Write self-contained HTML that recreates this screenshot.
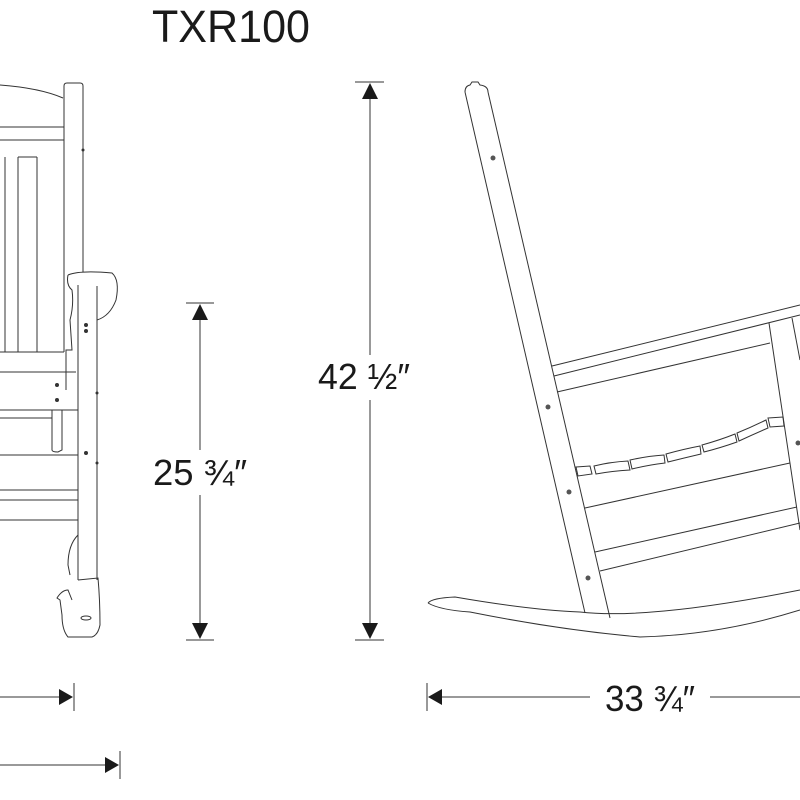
<!DOCTYPE html>
<html><head><meta charset="utf-8"><style>
html,body{margin:0;padding:0;background:#fff;}
svg{display:block}
text{font-family:"Liberation Sans Narrow","Liberation Sans",sans-serif;fill:#1a1a1a}
</style></head><body>
<svg width="800" height="800" viewBox="0 0 800 800" xmlns="http://www.w3.org/2000/svg">
<text x="152" y="42" font-size="45" textLength="158" lengthAdjust="spacingAndGlyphs" style="font-family:'Liberation Sans',sans-serif">TXR100</text>

<g stroke="#333" stroke-width="1" fill="none">
<!-- LEFT CHAIR -->
<path d="M0 85 Q40 88 63 98"/>
<path d="M64 86 Q64 83 67 83 L80 83 Q83 83 83 86 L83 272"/>
<line x1="64" y1="86" x2="64" y2="352"/>
<line x1="0" y1="127" x2="64" y2="127"/>
<line x1="0" y1="140" x2="64" y2="140"/>
<line x1="5" y1="157" x2="5" y2="352"/>
<line x1="18" y1="157" x2="18" y2="352"/>
<line x1="37" y1="157" x2="37" y2="352"/>
<path d="M18 157 L37 157"/>
<line x1="0" y1="352" x2="64" y2="352"/>
<line x1="0" y1="372" x2="76" y2="372"/>
<path d="M68 275 Q80 270 112 273 Q120 280 116 300 Q110 316 97 320"/>
<path d="M68 275 Q66 285 72 290 Q74 305 70 320 L72 350 L66 350 L66 390"/>
<line x1="78" y1="285" x2="78" y2="580"/>
<line x1="97" y1="286" x2="97" y2="580"/>
<line x1="0" y1="410" x2="78" y2="410"/>
<line x1="0" y1="418" x2="52" y2="418"/>
<line x1="0" y1="455" x2="52" y2="455"/>
<path d="M52 410 L52 450 Q52 452 58 452 L62 450 L62 410"/>
<line x1="0" y1="455" x2="78" y2="455"/>
<line x1="0" y1="490" x2="78" y2="490"/>
<line x1="0" y1="500" x2="78" y2="500"/>
<line x1="0" y1="520" x2="78" y2="520"/>
<path d="M78 535 Q68 545 68 565 L70 575"/>
<path d="M78 580 L98 578 Q100 600 100 625 Q98 635 92 637 L68 637 Q62 630 62 615 L60 600 L57 598 Q62 590 68 590 L72 600"/>
<ellipse cx="86" cy="618" rx="5" ry="2"/>
</g>
<g fill="#333">
<circle cx="86" cy="325" r="2"/><circle cx="86" cy="331" r="2"/>
<circle cx="57" cy="385" r="2"/><circle cx="57" cy="400" r="2"/>
<circle cx="86" cy="453" r="2"/>
<circle cx="83" cy="150" r="1.5"/><circle cx="97" cy="393" r="1.5"/><circle cx="97" cy="463" r="1.5"/>
</g>

<!-- RIGHT CHAIR -->
<g stroke="#333" stroke-width="1" fill="none">
<path d="M465 92 Q465 86 470 85 L472 82 L478 82 L480 85 Q488 86 488 92"/>
<line x1="465" y1="92" x2="585" y2="613"/>
<line x1="488" y1="92" x2="610" y2="618"/>
<line x1="552" y1="366" x2="800" y2="305"/>
<line x1="554" y1="376" x2="800" y2="315"/>
<line x1="557" y1="392" x2="770" y2="343"/>
<line x1="769" y1="323" x2="800" y2="530"/>
<line x1="792" y1="318" x2="800" y2="360"/>
<line x1="585" y1="508" x2="790" y2="463"/>
<line x1="595" y1="552" x2="797" y2="507"/>
<line x1="600" y1="571" x2="800" y2="523"/>
<path d="M576 467 L590 466 L592 474 L578 476 Z"/>
<path d="M594 466 Q610 462 628 461 L630 470 Q612 471 596 474 Z"/>
<path d="M630 460 Q648 456 664 455 L665 463 Q648 465 632 469 Z"/>
<path d="M666 454 Q684 449 700 446 L701 454 Q684 458 668 462 Z"/>
<path d="M702 445 Q720 440 735 434 L737 442 Q720 448 704 452 Z"/>
<path d="M737 433 Q752 427 766 420 L768 428 Q754 434 739 441 Z"/>
<path d="M768 418 L783 417 L784 426 L770 427 Z"/>
<path d="M428 603 Q432 598 455 597 Q530 610 580 612 Q650 620 800 590"/>
<path d="M428 603 Q440 610 470 612 Q560 630 640 637 Q720 635 800 610"/>
</g>
<g fill="#555">
<circle cx="493" cy="158" r="2.5"/><circle cx="548" cy="407" r="2.5"/>
<circle cx="569" cy="492" r="2.5"/><circle cx="588" cy="578" r="2.5"/>
<circle cx="798" cy="443" r="2.5"/>
</g>

<!-- DIMENSIONS -->
<g stroke="#333" stroke-width="1">
<line x1="355" y1="82" x2="384" y2="82"/>
<line x1="355" y1="640" x2="384" y2="640"/>
<line x1="370" y1="98" x2="370" y2="355"/>
<line x1="370" y1="400" x2="370" y2="624"/>
<line x1="186" y1="303" x2="214" y2="303"/>
<line x1="186" y1="640" x2="214" y2="640"/>
<line x1="200" y1="318" x2="200" y2="450"/>
<line x1="200" y1="495" x2="200" y2="624"/>
<line x1="0" y1="697" x2="60" y2="697"/>
<line x1="74" y1="683" x2="74" y2="711"/>
<line x1="0" y1="765" x2="106" y2="765"/>
<line x1="120" y1="751" x2="120" y2="779"/>
<line x1="427" y1="683" x2="427" y2="711"/>
<line x1="442" y1="697" x2="590" y2="697"/>
<line x1="710" y1="697" x2="800" y2="697"/>
</g>
<g fill="#1a1a1a">
<polygon points="370,83 362,99 378,99"/>
<polygon points="370,639 362,623 378,623"/>
<polygon points="200,304 192,320 208,320"/>
<polygon points="200,639 192,623 208,623"/>
<polygon points="73,697 59,689 59,705"/>
<polygon points="119,765 105,757 105,773"/>
<polygon points="428,697 442,689 442,705"/>
</g>
<text x="318" y="389" font-size="36" textLength="92" lengthAdjust="spacingAndGlyphs">42 ½″</text>
<text x="153" y="485" font-size="36" textLength="94" lengthAdjust="spacingAndGlyphs">25 ¾″</text>
<text x="605" y="711" font-size="36" textLength="90" lengthAdjust="spacingAndGlyphs">33 ¾″</text>
</svg>
</body></html>
